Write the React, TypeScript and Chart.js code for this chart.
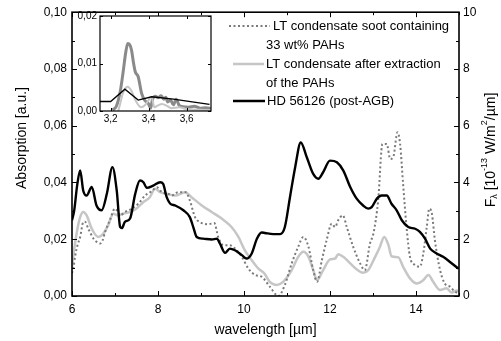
import { useEffect, useRef } from 'react';
import { Chart, registerables } from 'chart.js';
Chart.register(...registerables);

// ---- main chart data ----
const pahWl = [6.0, 6.04, 6.07, 6.13, 6.19, 6.26, 6.3, 6.38, 6.5, 6.58, 6.65, 6.71, 6.77, 6.88, 7.0, 7.06, 7.12, 7.23, 7.39, 7.54, 7.7, 7.85, 7.97, 8.09, 8.24, 8.32, 8.47, 8.64, 8.74, 8.86, 8.98, 9.17, 9.31, 9.4, 9.52, 9.67, 9.79, 9.95, 10.1, 10.26, 10.41, 10.6, 10.8, 10.95, 11.11, 11.26, 11.38, 11.5, 11.61, 11.7, 11.81, 11.92, 12.04, 12.12, 12.19, 12.3, 12.39, 12.54, 12.7, 12.81, 12.93, 13.01, 13.12, 13.22, 13.32, 13.4, 13.47, 13.57, 13.63, 13.7, 13.78, 13.86, 13.98, 14.09, 14.17, 14.25, 14.31, 14.37, 14.44, 14.56, 14.67, 14.79, 14.91, 15.0];
const pahAbs = [0.008, 0.0105, 0.0138, 0.018, 0.0208, 0.026, 0.0262, 0.0237, 0.0202, 0.019, 0.0185, 0.0195, 0.0226, 0.0267, 0.0308, 0.0298, 0.0284, 0.0296, 0.0308, 0.0325, 0.0354, 0.0369, 0.0383, 0.0366, 0.036, 0.0354, 0.0366, 0.0366, 0.0337, 0.0278, 0.026, 0.0253, 0.0257, 0.0208, 0.0179, 0.0179, 0.0167, 0.0138, 0.0097, 0.0074, 0.0068, 0.0033, 0.0, 0.0039, 0.0115, 0.0173, 0.0208, 0.0173, 0.0091, 0.005, 0.0126, 0.0196, 0.0255, 0.0243, 0.0267, 0.0284, 0.0243, 0.0173, 0.0115, 0.0091, 0.0185, 0.022, 0.0337, 0.0536, 0.0536, 0.0483, 0.0489, 0.0577, 0.0536, 0.0395, 0.0243, 0.0138, 0.0109, 0.0103, 0.015, 0.0243, 0.0308, 0.029, 0.0196, 0.0091, 0.0044, 0.0033, 0.0015, 0.001];

const extWl = [6.0, 6.07, 6.13, 6.19, 6.26, 6.34, 6.46, 6.61, 6.73, 6.84, 6.96, 7.08, 7.19, 7.35, 7.5, 7.66, 7.81, 7.93, 8.05, 8.2, 8.4, 8.63, 8.78, 9.02, 9.25, 9.48, 9.71, 9.87, 10.02, 10.18, 10.33, 10.47, 10.6, 10.76, 10.91, 11.11, 11.26, 11.38, 11.5, 11.61, 11.7, 11.84, 12.0, 12.12, 12.19, 12.31, 12.47, 12.62, 12.77, 12.89, 13.05, 13.16, 13.26, 13.36, 13.43, 13.59, 13.7, 13.86, 14.02, 14.17, 14.29, 14.4, 14.56, 14.71, 14.83, 14.95, 15.0];
const extAbs = [0.0103, 0.0185, 0.024, 0.0278, 0.0296, 0.0284, 0.0237, 0.0208, 0.022, 0.0249, 0.029, 0.0284, 0.029, 0.0296, 0.0308, 0.0331, 0.0348, 0.0378, 0.0366, 0.036, 0.0354, 0.0366, 0.0348, 0.0319, 0.0296, 0.0273, 0.0243, 0.0208, 0.0161, 0.0126, 0.0097, 0.008, 0.005, 0.0039, 0.005, 0.0091, 0.0138, 0.0156, 0.0138, 0.0091, 0.0056, 0.0091, 0.0129, 0.0132, 0.0147, 0.0138, 0.0115, 0.0094, 0.0082, 0.0091, 0.0138, 0.0173, 0.0208, 0.0179, 0.014, 0.0136, 0.0103, 0.0062, 0.0044, 0.0056, 0.0074, 0.005, 0.0021, 0.0027, 0.0012, 0.0019, 0.0015];

const hdWl = [6.0, 6.05, 6.12, 6.19, 6.26, 6.34, 6.46, 6.57, 6.69, 6.81, 6.94, 7.04, 7.12, 7.16, 7.23, 7.35, 7.47, 7.58, 7.66, 7.74, 7.89, 8.05, 8.12, 8.2, 8.28, 8.4, 8.59, 8.74, 8.82, 8.9, 9.05, 9.25, 9.37, 9.44, 9.56, 9.67, 9.79, 9.95, 10.06, 10.18, 10.3, 10.41, 10.49, 10.68, 10.84, 10.95, 11.07, 11.19, 11.32, 11.46, 11.61, 11.73, 11.84, 12.0, 12.16, 12.31, 12.47, 12.62, 12.77, 12.89, 12.97, 13.09, 13.2, 13.32, 13.43, 13.55, 13.67, 13.82, 13.98, 14.09, 14.21, 14.33, 14.48, 14.63, 14.79, 14.98];
const hdFlux = [2.67, 3.0, 3.9, 4.42, 3.72, 3.54, 3.84, 3.19, 3.02, 3.6, 4.54, 3.72, 2.43, 2.39, 2.61, 2.73, 3.6, 4.07, 4.01, 3.81, 3.89, 4.01, 3.95, 3.49, 3.26, 3.19, 3.02, 2.78, 2.43, 2.08, 2.02, 1.99, 2.02, 1.85, 1.52, 1.67, 1.61, 1.44, 1.32, 1.5, 2.02, 2.24, 2.22, 2.18, 2.18, 2.43, 3.49, 4.54, 5.41, 4.89, 4.3, 4.13, 4.36, 4.77, 4.71, 4.42, 3.84, 3.43, 3.19, 3.08, 3.13, 3.43, 3.54, 3.54, 3.25, 3.02, 2.67, 2.43, 2.37, 2.26, 2.02, 1.67, 1.5, 1.38, 1.2, 0.97];

const xTickAll = [6, 7, 8, 9, 10, 11, 12, 13, 14, 15];
const xTickLabels = [6, 8, 10, 12, 14];
const absTickAll = [0, 0.01, 0.02, 0.03, 0.04, 0.05, 0.06, 0.07, 0.08, 0.09, 0.1];
const absTickLabels = [0, 0.02, 0.04, 0.06, 0.08, 0.1];
const fluxTickAll = [0, 1, 2, 3, 4, 5, 6, 7, 8, 9, 10];
const fluxTickLabels = [0, 2, 4, 6, 8, 10];

const legendLabels = [
  ['LT condensate soot containing', '33 wt% PAHs'],
  ['LT condensate after extraction', 'of the PAHs'],
  ['HD 56126 (post-AGB)'],
];
const xTitle = 'wavelength [µm]';
const yTitle = 'Absorption [a.u.]';

// ---- inset data ----
const insPahWl = [3.21, 3.23, 3.25, 3.265, 3.28, 3.29, 3.3, 3.31, 3.32, 3.33, 3.345, 3.363, 3.38, 3.398, 3.41, 3.42, 3.435, 3.45, 3.465, 3.48, 3.49, 3.5, 3.515, 3.53, 3.545, 3.56, 3.58, 3.61, 3.64, 3.67, 3.7, 3.73];
const insPahAbs = [0.0002, 0.001, 0.004, 0.008, 0.0125, 0.0142, 0.014, 0.0128, 0.0102, 0.0082, 0.0072, 0.0037, 0.0022, 0.0016, 0.0006, 0.0024, 0.0031, 0.0028, 0.0032, 0.0025, 0.0029, 0.0019, 0.0023, 0.0013, 0.0025, 0.0012, 0.0009, 0.0008, 0.001, 0.0006, 0.0007, 0.0005];
const insExtWl = [3.24, 3.25, 3.265, 3.28, 3.29, 3.31, 3.33, 3.36, 3.38, 3.4, 3.415, 3.43, 3.45, 3.47, 3.5, 3.52, 3.56, 3.6, 3.65, 3.73];
const insExtAbs = [0.0, 0.0015, 0.0038, 0.0049, 0.0051, 0.0042, 0.0023, 0.0008, 0.0012, 0.0023, 0.003, 0.0008, 0.0012, 0.0015, 0.001, 0.0006, 0.0008, 0.0004, 0.0003, 0.0002];
const insHdWl = [3.144, 3.2, 3.275, 3.345, 3.416, 3.53, 3.72];
const insHdVal = [0.002, 0.002, 0.0046, 0.0023, 0.003, 0.0025, 0.0014];
const insXTicks = [3.2, 3.4, 3.6];
const insYTicks = [0, 0.01, 0.02];

const FONT = "'Liberation Sans', Arial, sans-serif";
const DARK = '#7a7a7a';
const LIGHT = '#c6c6c6';

const fmt = (v: number, d: number) => v.toFixed(d).replace('.', ',');
const pts = (xs: number[], ys: number[]) => xs.map((x, i) => ({ x, y: ys[i] }));

const mainPlugin = {
  id: 'mainDecor',
  afterDraw(chart: any) {
    const { ctx, chartArea: a, scales } = chart;
    const sx = scales.x, sy = scales.y, sy2 = scales.y2;
    ctx.save();
    ctx.strokeStyle = '#000';
    ctx.lineWidth = 1;
    ctx.beginPath();
    for (const v of xTickAll) {
      const px = Math.round(sx.getPixelForValue(v)) + 0.5;
      const len = xTickLabels.includes(v) ? 5 : 3;
      ctx.moveTo(px, a.bottom); ctx.lineTo(px, a.bottom - len);
      ctx.moveTo(px, a.top); ctx.lineTo(px, a.top + len);
    }
    for (const v of absTickAll) {
      const py = Math.round(sy.getPixelForValue(v)) + 0.5;
      const len = absTickLabels.some((t) => Math.abs(t - v) < 1e-9) ? 5 : 3;
      ctx.moveTo(a.left, py); ctx.lineTo(a.left + len, py);
    }
    for (const v of fluxTickAll) {
      const py = Math.round(sy2.getPixelForValue(v)) + 0.5;
      const len = fluxTickLabels.includes(v) ? 5 : 3;
      ctx.moveTo(a.right, py); ctx.lineTo(a.right - len, py);
    }
    ctx.stroke();
    ctx.lineWidth = 1.6;
    ctx.strokeRect(a.left, a.top, a.right - a.left, a.bottom - a.top);

    // axis titles
    ctx.fillStyle = '#000';
    ctx.font = `14px ${FONT}`;
    ctx.textAlign = 'center';
    ctx.textBaseline = 'middle';
    ctx.fillText(xTitle, (a.left + a.right) / 2, 330);
    ctx.save();
    ctx.translate(22, 138);
    ctx.rotate(-Math.PI / 2);
    ctx.fillText(yTitle, 0, 0);
    ctx.restore();

    // right title with sub/superscripts
    const parts: [string, number, number][] = [
      ['F', 14, 0], ['λ', 9, 4], [' [10', 14, 0], ['-13', 9, -6], [' W/m', 14, 0], ['2', 9, -6], ['/µm]', 14, 0],
    ];
    let total = 0;
    for (const [t, s] of parts) { ctx.font = `${s}px ${FONT}`; total += ctx.measureText(t).width; }
    ctx.save();
    ctx.translate(491, 150);
    ctx.rotate(-Math.PI / 2);
    ctx.textAlign = 'left';
    let cx = -total / 2;
    for (const [t, s, dy] of parts) {
      ctx.font = `${s}px ${FONT}`;
      ctx.fillText(t, cx, dy);
      cx += ctx.measureText(t).width;
    }
    ctx.restore();

    // legend
    ctx.font = `13px ${FONT}`;
    ctx.textAlign = 'left';
    ctx.textBaseline = 'middle';
    // entry 1
    ctx.strokeStyle = DARK; ctx.lineWidth = 2; ctx.setLineDash([2, 2.5]);
    ctx.beginPath(); ctx.moveTo(229, 26); ctx.lineTo(270, 26); ctx.stroke();
    ctx.setLineDash([]);
    ctx.fillText(legendLabels[0][0], 273, 26);
    ctx.fillText(legendLabels[0][1], 266, 45);
    // entry 2
    ctx.strokeStyle = LIGHT; ctx.lineWidth = 2.5;
    ctx.beginPath(); ctx.moveTo(233, 64); ctx.lineTo(264, 64); ctx.stroke();
    ctx.fillText(legendLabels[1][0], 266, 64);
    ctx.fillText(legendLabels[1][1], 266, 83);
    // entry 3
    ctx.strokeStyle = '#000'; ctx.lineWidth = 2.5;
    ctx.beginPath(); ctx.moveTo(233, 101); ctx.lineTo(265, 101); ctx.stroke();
    ctx.fillText(legendLabels[2][0], 267, 101);
    ctx.restore();
  },
};

const insetPlugin = {
  id: 'insetDecor',
  beforeDatasetsDraw(chart: any) {
    const { ctx, chartArea: a } = chart;
    ctx.save();
    ctx.fillStyle = '#fff';
    ctx.fillRect(a.left, a.top, a.right - a.left, a.bottom - a.top);
    ctx.restore();
  },
  afterDraw(chart: any) {
    const { ctx, chartArea: a, scales } = chart;
    ctx.save();
    ctx.strokeStyle = '#000';
    ctx.lineWidth = 1;
    ctx.beginPath();
    for (const v of insXTicks) {
      const px = Math.round(scales.x.getPixelForValue(v)) + 0.5;
      ctx.moveTo(px, a.bottom); ctx.lineTo(px, a.bottom - 3);
      ctx.moveTo(px, a.top); ctx.lineTo(px, a.top + 3);
    }
    for (const v of insYTicks) {
      const py = Math.round(scales.y.getPixelForValue(v)) + 0.5;
      ctx.moveTo(a.left, py); ctx.lineTo(a.left + 3, py);
      ctx.moveTo(a.right, py); ctx.lineTo(a.right - 3, py);
    }
    ctx.stroke();
    ctx.lineWidth = 1.2;
    ctx.strokeRect(a.left, a.top, a.right - a.left, a.bottom - a.top);
    ctx.restore();
  },
};

export default function App() {
  const mainRef = useRef<HTMLCanvasElement>(null);
  const insetRef = useRef<HTMLCanvasElement>(null);

  useEffect(() => {
    const tickFont = { family: FONT, size: 12 };
    const main = new Chart(mainRef.current as HTMLCanvasElement, {
      type: 'line',
      data: {
        datasets: [
          {
            data: pts(hdWl, hdFlux), yAxisID: 'y2', borderColor: '#000', borderWidth: 2.4,
            pointRadius: 0, cubicInterpolationMode: 'monotone',
          },
          {
            data: pts(pahWl, pahAbs), yAxisID: 'y', borderColor: DARK, borderWidth: 2,
            borderDash: [2, 2.5], pointRadius: 0, cubicInterpolationMode: 'monotone',
          },
          {
            data: pts(extWl, extAbs), yAxisID: 'y', borderColor: LIGHT, borderWidth: 2.5,
            pointRadius: 0, cubicInterpolationMode: 'monotone',
          },
        ] as any,
      },
      options: {
        responsive: false,
        animation: false,
        events: [],
        layout: { padding: { top: 11, left: 0, right: 0, bottom: 0 } },
        plugins: { legend: { display: false }, tooltip: { enabled: false } },
        scales: {
          x: {
            type: 'linear', position: 'bottom', min: 6, max: 15,
            grid: { display: false, drawTicks: false }, border: { display: false },
            afterBuildTicks: (s: any) => { s.ticks = xTickLabels.map((value) => ({ value })); },
            afterFit: (s: any) => { s.height = 45; },
            ticks: { font: tickFont, color: '#000', padding: 6, maxRotation: 0, callback: (v: any) => String(v) },
          },
          y: {
            type: 'linear', position: 'left', min: 0, max: 0.1,
            grid: { display: false, drawTicks: false }, border: { display: false },
            afterBuildTicks: (s: any) => { s.ticks = absTickLabels.map((value) => ({ value })); },
            afterFit: (s: any) => { s.width = 72; },
            ticks: { font: tickFont, color: '#000', padding: 5, callback: (v: any) => fmt(Number(v), 2) },
          },
          y2: {
            type: 'linear', position: 'right', min: 0, max: 10,
            grid: { display: false, drawTicks: false }, border: { display: false },
            afterBuildTicks: (s: any) => { s.ticks = fluxTickLabels.map((value) => ({ value })); },
            afterFit: (s: any) => { s.width = 42; },
            ticks: { font: tickFont, color: '#000', padding: 4, callback: (v: any) => String(v) },
          },
        },
      } as any,
      plugins: [mainPlugin],
    });

    const insFont = { family: FONT, size: 10 };
    const inset = new Chart(insetRef.current as HTMLCanvasElement, {
      type: 'line',
      data: {
        datasets: [
          {
            data: pts(insHdWl, insHdVal), borderColor: '#000', borderWidth: 1.3,
            pointRadius: 0, tension: 0,
          },
          {
            data: pts(insExtWl, insExtAbs), borderColor: LIGHT, borderWidth: 2,
            pointRadius: 0, cubicInterpolationMode: 'monotone',
          },
          {
            data: pts(insPahWl, insPahAbs), borderColor: '#8a8a8a', borderWidth: 3,
            pointRadius: 0, cubicInterpolationMode: 'monotone',
          },
        ] as any,
      },
      options: {
        responsive: false,
        animation: false,
        events: [],
        layout: { padding: { top: 11, left: 0, right: 9, bottom: 0 } },
        plugins: { legend: { display: false }, tooltip: { enabled: false } },
        scales: {
          x: {
            type: 'linear', min: 3.144, max: 3.728,
            grid: { display: false, drawTicks: false }, border: { display: false },
            afterBuildTicks: (s: any) => { s.ticks = insXTicks.map((value) => ({ value })); },
            afterFit: (s: any) => { s.height = 19; },
            ticks: { font: insFont, color: '#000', padding: 2, maxRotation: 0, callback: (v: any) => fmt(Number(v), 1) },
          },
          y: {
            type: 'linear', min: 0, max: 0.02,
            grid: { display: false, drawTicks: false }, border: { display: false },
            afterBuildTicks: (s: any) => { s.ticks = insYTicks.map((value) => ({ value })); },
            afterFit: (s: any) => { s.width = 30; },
            ticks: { font: insFont, color: '#000', padding: 3, callback: (v: any) => fmt(Number(v), 2) },
          },
        },
      } as any,
      plugins: [insetPlugin],
    });

    return () => { main.destroy(); inset.destroy(); };
  }, []);

  return (
    <div style={{ position: 'fixed', left: 0, top: 0, width: 501, height: 341, background: '#fff' }}>
      <canvas ref={mainRef} width={501} height={341} style={{ position: 'absolute', left: 0, top: 0, display: 'block' }} />
      <canvas ref={insetRef} width={150} height={125} style={{ position: 'absolute', left: 70, top: 5, display: 'block' }} />
    </div>
  );
}
